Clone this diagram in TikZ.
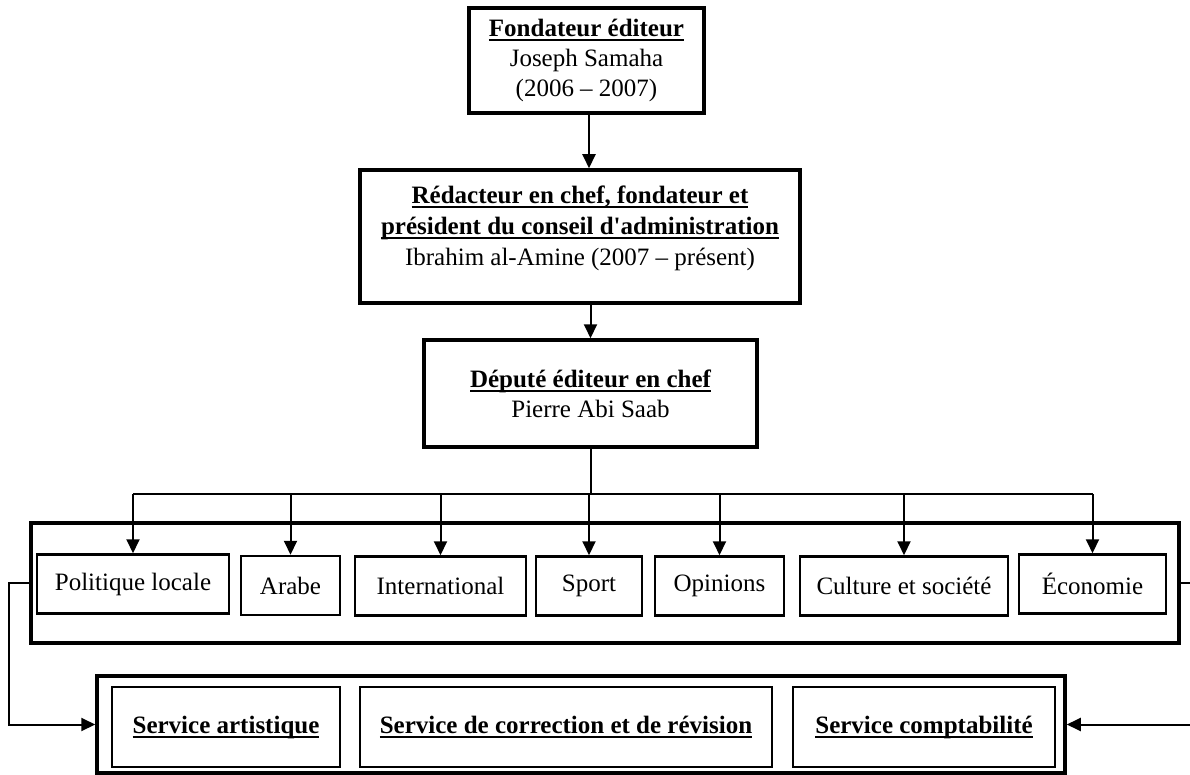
\documentclass[tikz,border=0pt]{standalone}
\usepackage{fontspec}
\setmainfont{Liberation Serif}
\usetikzlibrary{arrows.meta}
\newsavebox{\ulsave}
\newcommand{\ultitle}[1]{\sbox{\ulsave}{\bfseries #1}\rlap{\rule[-4.5pt]{\wd\ulsave}{2pt}}\usebox{\ulsave}}
\tikzset{
  headbox/.style={draw, line width=3.5pt, align=center, inner sep=0pt, font=\fontsize{25}{30}\selectfont},
  headtext/.style={align=center, inner sep=0pt, font=\fontsize{25}{31}\selectfont},
  deptbox/.style={draw, line width=2.5pt, minimum height=59pt, inner sep=0pt, font=\fontsize{25}{30}\selectfont},
  servbox/.style={draw, line width=2.5pt, minimum height=80pt, inner sep=0pt, align=center, font=\fontsize{25}{30}\selectfont},
  groupbox/.style={draw, line width=3.5pt},
  link/.style={line width=2pt, -{Triangle[width=13pt,length=14pt]}},
  plain/.style={line width=2pt}
}
\begin{document}
\begin{tikzpicture}[x=1pt,y=-1pt]
\useasboundingbox (0,0) rectangle (1190,775);
% direction
\node[headbox, minimum width=235pt, minimum height=105pt] (fond) at (586.5,60.5) {\ultitle{Fondateur éditeur}\\ Joseph Samaha\\ (2006 -- 2007)};
\node[headbox, minimum width=440pt, minimum height=133pt] (redac) at (580,236.5) {};
\node[headtext] (redactxt) at (580,228) {\ultitle{Rédacteur en chef, fondateur et}\\ \ultitle{président du conseil d\textquotesingle administration}\\ Ibrahim al-Amine (2007 -- présent)};
\node[headbox, minimum width=333pt, minimum height=107pt] (dep) at (590.5,393.5) {\ultitle{Député éditeur en chef}\\ Pierre Abi Saab};
\draw[link] ([xshift=2.5pt]fond.south) -- ([xshift=2.5pt]fond.south |- redac.north);
\draw[link] (dep.north |- redac.south) -- (dep.north);
% rubriques
\node[groupbox, minimum width=1148pt, minimum height=120pt] (depts) at (605,583) {};
\node[deptbox, minimum width=192pt] (pol) at (133,584) {Politique locale};
\node[deptbox, minimum width=99pt] (arabe) at (290.5,585.5) {Arabe};
\node[deptbox, minimum width=171pt] (intl) at (440.5,586) {International};
\node[deptbox, minimum width=106pt] (sport) at (589,586) {Sport};
\node[deptbox, minimum width=129pt] (opin) at (719.5,586) {Opinions};
\node[deptbox, minimum width=208pt] (cult) at (904,586) {Culture et société};
\node[deptbox, minimum width=147pt] (eco) at (1092.5,584) {Économie};
\coordinate (branch) at (592,494);
\draw[plain] (dep.south) -- (dep.south |- branch);
\draw[plain] (pol.north |- branch) -- (eco.north |- branch);
\foreach \d in {pol,arabe,intl,sport,opin,cult,eco}
  \draw[link] (\d.north |- branch) -- (\d.north);
% services
\node[groupbox, minimum width=968pt, minimum height=97pt] (servs) at (581,724.5) {};
\node[servbox, minimum width=228pt] (art) at (226,727) {\ultitle{Service artistique}};
\node[servbox, minimum width=412pt] (corr) at (566,727) {\ultitle{Service de correction et de révision}};
\node[servbox, minimum width=262pt] (compt) at (924,727) {\ultitle{Service comptabilité}};
\draw[link] (depts.west) -- ++(-20,0) |- (servs.west);
\draw[link] (depts.east) -- ++(20,0) |- (servs.east);
\end{tikzpicture}
\end{document}
